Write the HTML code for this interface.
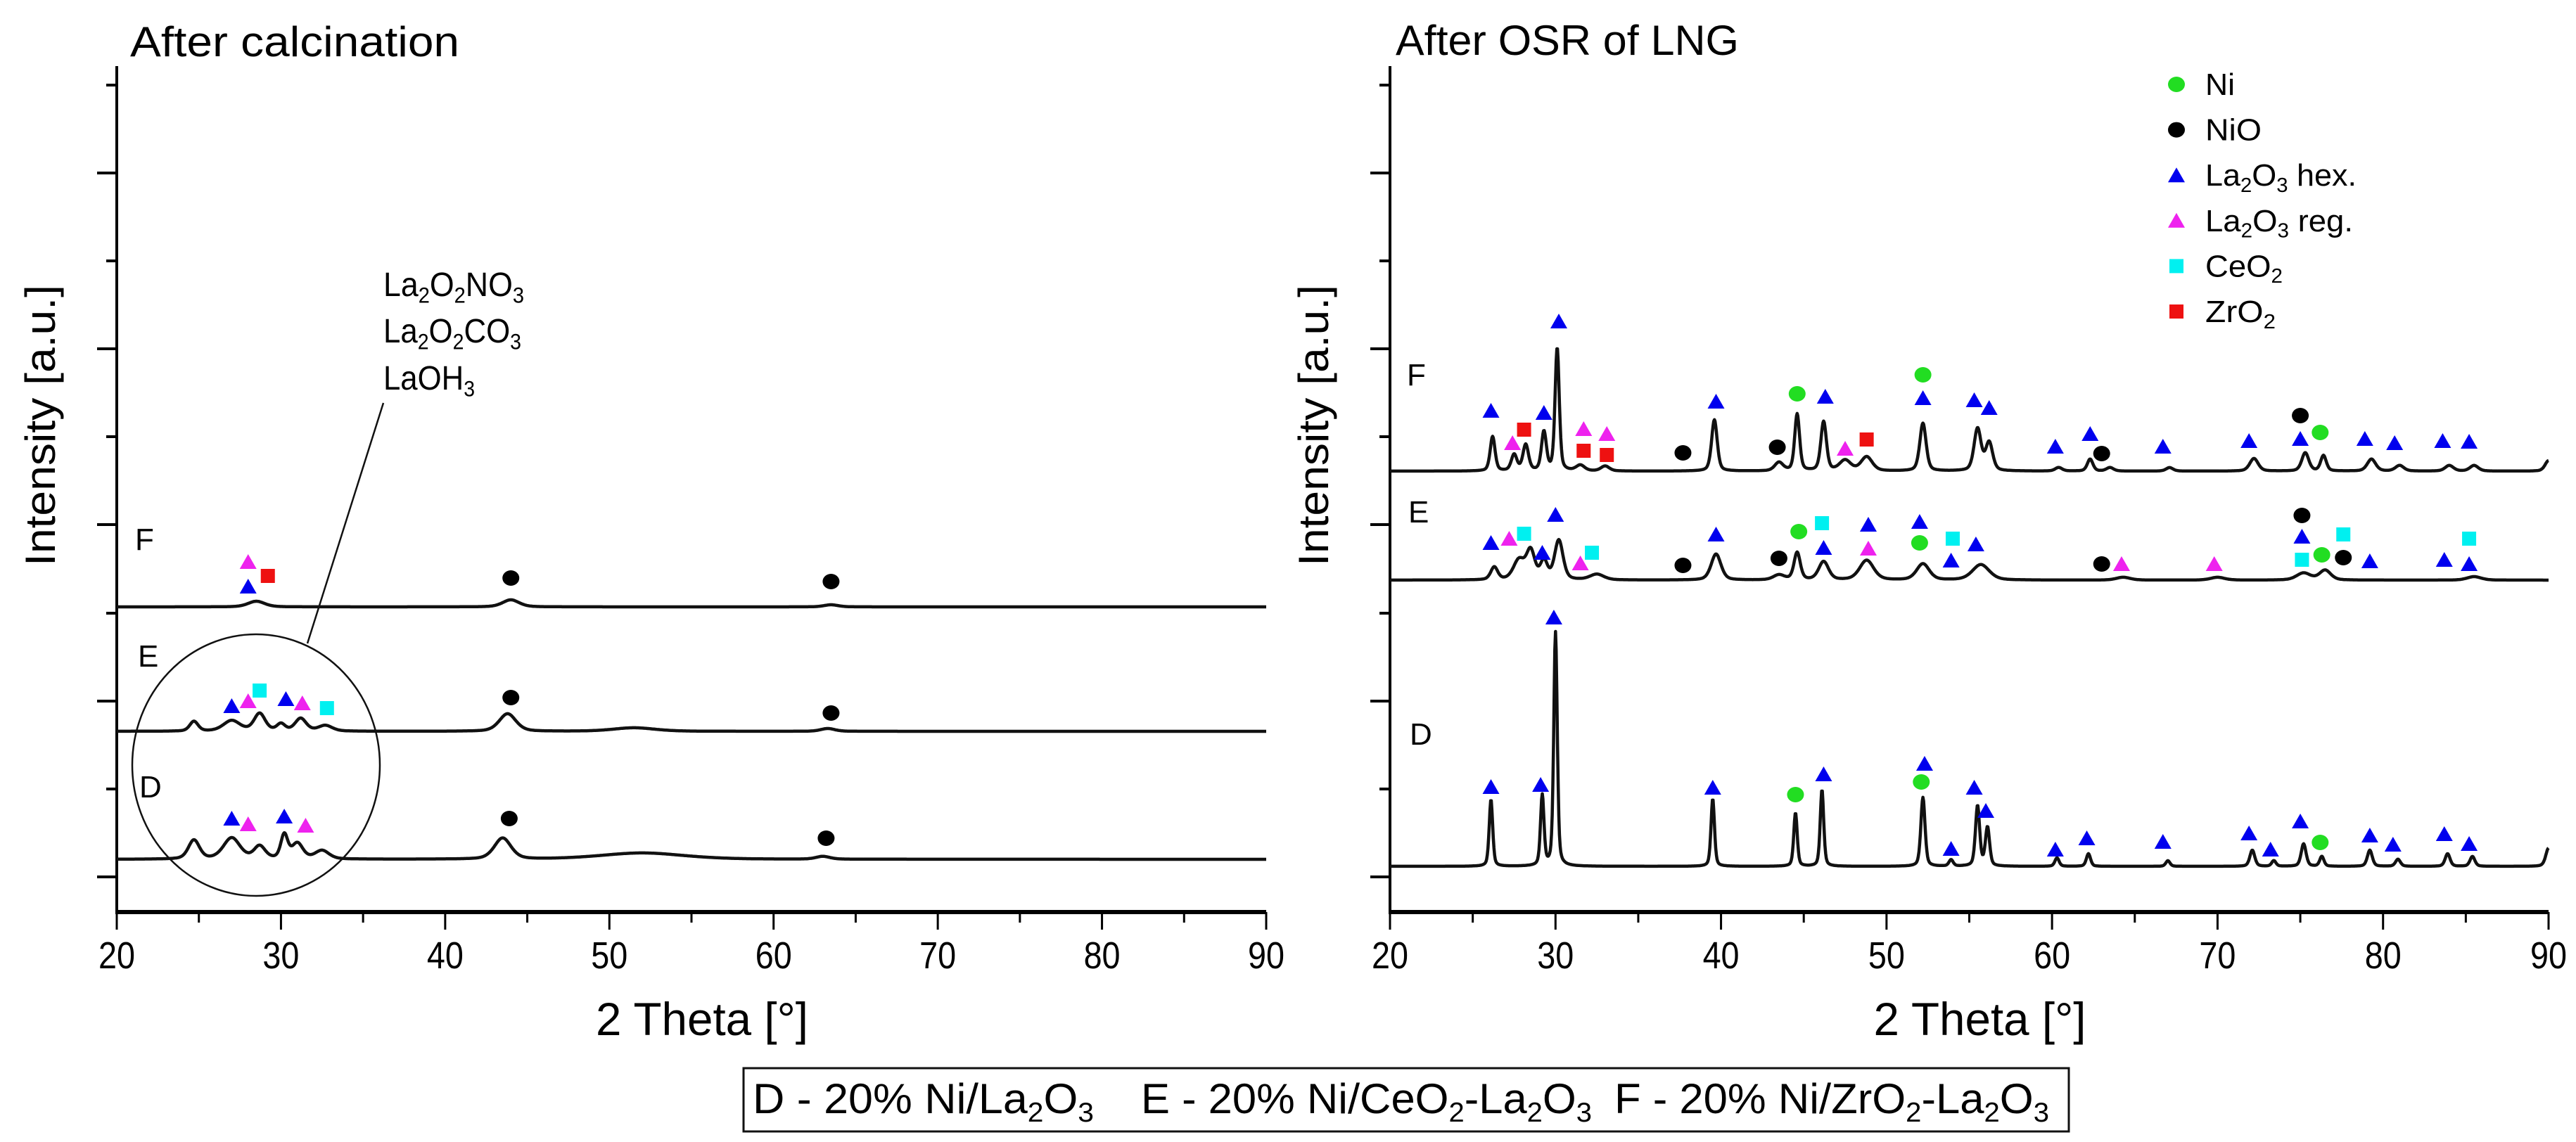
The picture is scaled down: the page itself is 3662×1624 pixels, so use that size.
<!DOCTYPE html>
<html><head><meta charset="utf-8"><style>
html,body{margin:0;padding:0;background:#fff;}
svg{display:block;font-family:"Liberation Sans",sans-serif;}
</style></head><body>
<svg id="chart" width="3662" height="1624" viewBox="0 0 3662 1624" xmlns="http://www.w3.org/2000/svg">
<rect width="3662" height="1624" fill="#fff"/>
<g id="root"></g>
</svg>
<script>
// ---- data ----
const xTicks = [20,30,40,50,60,70,80,90];
const tickLabels = ["20","30","40","50","60","70","80","90"];
// peaks: [2theta, height (a.u.), fwhm]
const leftF = [[28.5,8,1.2],[44,10,1.2],[63.5,3,1]];
const leftE = [[24.7,14,0.6],[27,15,1.2],[28.7,25,0.8],[30,10,0.6],[31.2,18,0.8],[32.7,8,1],[43.8,25,1.2],[51.5,5,3],[63.3,4,1]];
const leftD = [[24.7,27,0.8],[27,30,1.2],[28.7,18,0.8],[30.2,34,0.5],[31,22,0.8],[32.5,12,1],[43.5,30,1.2],[52,9,6],[63,4,1]];
const rightF = [[26.2,49,0.35],[27.5,23,0.4],[28.2,37,0.4],[29.3,55,0.35],[30.1,175,0.3],[31.5,8,0.6],[33,7,0.6],[39.6,73,0.4],[43.5,12,0.6],[44.6,81,0.35],[46.2,70,0.4],[47.5,15,0.8],[48.8,20,0.8],[52.2,68,0.45],[55.5,60,0.5],[56.2,40,0.5],[60.4,5,0.5],[62.3,17,0.4],[63.5,5,0.5],[67.1,5,0.5],[72.2,18,0.6],[75.3,26,0.5],[76.4,22,0.4],[79.3,17,0.6],[81,8,0.6],[84,8,0.6],[85.5,8,0.6],[90,15,0.5]];
const rightE = [[26.3,18,0.5],[27.8,28,0.8],[28.5,40,0.6],[29.3,26,0.5],[30.2,56,0.6],[32.5,8,1],[39.7,37,0.7],[43.5,7,0.8],[44.6,39,0.45],[46.2,26,0.7],[48.8,28,1],[52.2,23,0.9],[55.7,22,1.2],[64.3,4,1],[70,4,1],[75.2,10,1],[76.5,14,0.8],[85.5,5,1]];
const rightD = [[26.1,95,0.25],[29.2,100,0.25],[30.0,333,0.25],[39.5,96,0.25],[44.5,76,0.25],[46.1,109,0.25],[52.2,98,0.3],[53.9,9,0.3],[55.5,86,0.3],[56.1,55,0.3],[60.3,12,0.3],[62.2,18,0.3],[67.0,8,0.3],[72.1,23,0.35],[73.4,8,0.3],[75.2,32,0.35],[76.3,14,0.3],[79.2,23,0.35],[80.9,10,0.35],[83.9,18,0.35],[85.4,14,0.35],[90,26,0.4]];
// markers: [phase, 2theta, height above baseline]
const mLeftF = [["reg",28.0,64],["hex",28.0,29],["zr",29.2,44],["nio",44.0,41],["nio",63.5,36]];
const mLeftE = [["hex",27,36],["reg",28,43],["ce",28.7,58],["hex",30.3,46],["reg",31.3,40],["ce",32.8,33],["nio",44,48],["nio",63.5,26]];
const mLeftD = [["hex",27,58],["reg",28,50],["hex",30.2,61],["reg",31.5,48],["nio",43.9,58],["nio",63.2,30]];
const mRightF = [["hex",26.1,86],["reg",27.4,40],["zr",28.1,59],["hex",29.3,83],["hex",30.2,213],["reg",31.7,60],["zr",31.7,29],["reg",33.1,53],["zr",33.1,23],["nio",37.7,26],["hex",39.7,99],["nio",43.4,34],["ni",44.6,110],["hex",46.3,106],["reg",47.5,32],["zr",48.8,45],["ni",52.2,137],["hex",52.2,104],["hex",55.3,101],["hex",56.2,90],["hex",60.2,35],["hex",62.3,53],["nio",63.0,25],["hex",66.7,35],["hex",71.9,43],["hex",75.0,46],["nio",75.0,79],["ni",76.2,55],["hex",78.9,46],["hex",80.7,40],["hex",83.6,43],["hex",85.2,42]];
const mRightE = [["hex",26.1,53],["reg",27.2,59],["ce",28.1,66],["hex",29.2,39],["hex",30.0,93],["reg",31.5,24],["ce",32.2,39],["nio",37.7,21],["hex",39.7,65],["nio",43.5,31],["ni",44.7,69],["ce",46.1,81],["hex",46.2,46],["hex",48.9,79],["reg",48.9,45],["hex",52.0,83],["ni",52.0,53],["ce",54.0,59],["hex",53.9,28],["hex",55.4,51],["nio",63.0,23],["reg",64.2,23],["reg",69.8,23],["nio",75.1,92],["hex",75.1,62],["ce",75.1,29],["ni",76.3,36],["ce",77.6,65],["nio",77.6,32],["hex",79.2,27],["hex",83.7,29],["ce",85.2,59],["hex",85.2,23]];
const mRightD = [["hex",26.1,113],["hex",29.1,116],["hex",29.9,354],["hex",39.5,112],["ni",44.5,102],["hex",46.2,131],["hex",52.3,146],["ni",52.1,120],["hex",53.9,25],["hex",55.3,112],["hex",56.0,79],["hex",60.2,24],["hex",62.1,40],["hex",66.7,35],["hex",71.9,47],["hex",73.2,24],["hex",75.0,64],["ni",76.2,34],["hex",79.2,44],["hex",80.6,31],["hex",83.7,46],["hex",85.2,32]];

// ---- helpers ----
const NS="http://www.w3.org/2000/svg";
const root=document.getElementById('root');
function mk(tag,attrs,parent){const e=document.createElementNS(NS,tag);for(const k in attrs)e.setAttribute(k,attrs[k]);(parent||root).appendChild(e);return e;}
const colors={ni:"#22dd22",nio:"#000",hex:"#0000ee",reg:"#ee22ee",ce:"#00f0f0",zr:"#ee1111"};
const panels={left:{x0:166,x1:1800},right:{x0:1976,x1:3623}};
function xs(p,t){const P=panels[p];return P.x0+(t-20)*(P.x1-P.x0)/70;}
const yTop=94, yAxis=1297;
const yTicks=[121,246,371,496,621,746,872,997,1122,1247];

function marker(type,cx,cy,parent){
  let e;
  if(type==="ni"||type==="nio") e=mk('ellipse',{cx:cx,cy:cy,rx:12,ry:11,fill:colors[type]},parent);
  else if(type==="hex"||type==="reg") e=mk('polygon',{points:`${cx-12},${cy+10} ${cx+12},${cy+10} ${cx},${cy-11}`,fill:colors[type]},parent);
  else e=mk('rect',{x:cx-10,y:cy-10,width:20,height:20,fill:colors[type]},parent);
  return e;
}
function profile(peaks,t){let s=0;for(const [c,h,w] of peaks){const u=(t-c)/(w/2);s+=h*(0.6*Math.exp(-0.693*u*u)+0.4/(1+u*u));}return s;}

function drawAxes(p,name){
  const g=mk('g',{});
  
  
  const X0=panels[p].x0,X1=panels[p].x1;
  mk('line',{x1:X0,y1:yTop,x2:X0,y2:yAxis+2,stroke:'#000','stroke-width':4},g);
  mk('line',{x1:X0-2,y1:yAxis,x2:X1,y2:yAxis,stroke:'#000','stroke-width':6},g);
  yTicks.forEach((y,i)=>{const L=(i%2===1)?28:15;mk('line',{x1:X0-L,y1:y,x2:X0,y2:y,stroke:'#000','stroke-width':4},g);});
  for(let t=20;t<=90;t+=5){const x=xs(p,t);const L=(t%10===0)?25:15;mk('line',{x1:x,y1:yAxis,x2:x,y2:yAxis+L,stroke:'#000','stroke-width':3},g);}
  xTicks.forEach((t,i)=>{const tx=mk('text',{x:xs(p,t),y:1377,'font-size':54,'text-anchor':'middle',textLength:52,lengthAdjust:'spacingAndGlyphs'},g);tx.textContent=tickLabels[i];
    
    });
  const xt=mk('text',{x:(X0+X1)/2+15,y:1472,'font-size':66,'text-anchor':'middle',textLength:302,lengthAdjust:'spacingAndGlyphs'},g);
  xt.textContent="2 Theta [°]";
  
  
  const yx = p==='left'?78:1888;
  const yt=mk('text',{x:yx,y:605,'font-size':60,'text-anchor':'middle',transform:`rotate(-90 ${yx} 605)`,textLength:400,lengthAdjust:'spacingAndGlyphs'},g);
  yt.textContent="Intensity [a.u.]";
  
  
}
function drawTrace(p,peaks,base,label,lx,ly,marks){
  const g=mk('g',{});
  
  
  let d='';
  for(let t=20;t<=90.0001;t+=0.04){const x=xs(p,t),y=base-profile(peaks,t);d+=(d?'L':'M')+x.toFixed(1)+','+y.toFixed(1);}
  const path=mk('path',{d:d,fill:'none',stroke:'#111','stroke-width':4.5,'stroke-linejoin':'round'},g);
  
  
  const lt=mk('text',{x:lx,y:ly,'font-size':44},g);
  lt.textContent=label;
  
  
  for(const [type,t,h] of marks){
    const m=marker(type,xs(p,t),base-h,g);
    
    
  }
}
drawAxes('left','left-panel');
drawAxes('right','right-panel');
drawTrace('left',leftF,863,'F',192,782,mLeftF);
drawTrace('left',leftE,1040,'E',196,948,mLeftE);
drawTrace('left',leftD,1222,'D',198,1134,mLeftD);
drawTrace('right',rightF,670,'F',2000,548,mRightF);
drawTrace('right',rightE,825,'E',2002,743,mRightE);
drawTrace('right',rightD,1232,'D',2004,1059,mRightD);

// titles
function title(x,y,txt,len,name){const t=mk('text',{x:x,y:y,'font-size':60,textLength:len,lengthAdjust:'spacingAndGlyphs'});t.textContent=txt;
  
  }
title(185,80,"After calcination",468,'left-panel-title');
title(1984,78,"After OSR of LNG",488,'right-panel-title');

// annotation
const ann=mk('g',{});


mk('ellipse',{cx:364,cy:1088,rx:176,ry:186,fill:'none',stroke:'#111','stroke-width':2.5},ann);
mk('line',{x1:545,y1:573,x2:437,y2:915,stroke:'#111','stroke-width':2.5},ann);
function chemText(parent,x,y,parts,fs,len){
  const t=mk('text',{x:x,y:y,'font-size':fs},parent);
  if(len){t.setAttribute('textLength',len);t.setAttribute('lengthAdjust','spacingAndGlyphs');}
  let prevSub=false;
  for(const [s,sub] of parts){const ts=mk('tspan',{},t);ts.textContent=s;
    if(sub){ts.setAttribute('font-size',fs*0.65);if(!prevSub)ts.setAttribute('dy',fs*0.2);}
    else if(prevSub){ts.setAttribute('dy',-fs*0.2);}
    prevSub=sub;}
  return t;
}
chemText(ann,545,421,[["La",0],["2",1],["O",0],["2",1],["NO",0],["3",1]],48,200);
chemText(ann,545,487,[["La",0],["2",1],["O",0],["2",1],["CO",0],["3",1]],48,196);
chemText(ann,545,554,[["LaOH",0],["3",1]],48,130);

// legend
const lg=mk('g',{});


const legendTypes=["ni","nio","hex","reg","ce","zr"];
const legendText=[[["Ni",0]],[["NiO",0]],[["La",0],["2",1],["O",0],["3",1],[" hex.",0]],[["La",0],["2",1],["O",0],["3",1],[" reg.",0]],[["CeO",0],["2",1]],[["ZrO",0],["2",1]]];
const legendLen=[42,80,215,210,110,100];
legendTypes.forEach((tp,i)=>{const y=120+i*64.6;
  const e=mk('g',{},lg);
  
  
  marker(tp,3094,y,e);
  chemText(e,3135,y+15,legendText[i],44,legendLen[i]);
});

// bottom sample legend
const bl=mk('g',{});


mk('rect',{x:1057,y:1519,width:1884,height:90,fill:'none',stroke:'#111','stroke-width':3},bl);
chemText(bl,1070,1583,[["D - 20% Ni/La",0],["2",1],["O",0],["3",1]],60,485);
chemText(bl,1622,1583,[["E - 20% Ni/CeO",0],["2",1],["-La",0],["2",1],["O",0],["3",1]],60,641);
chemText(bl,2295,1583,[["F - 20% Ni/ZrO",0],["2",1],["-La",0],["2",1],["O",0],["3",1]],60,618);
</script>
</body></html>
